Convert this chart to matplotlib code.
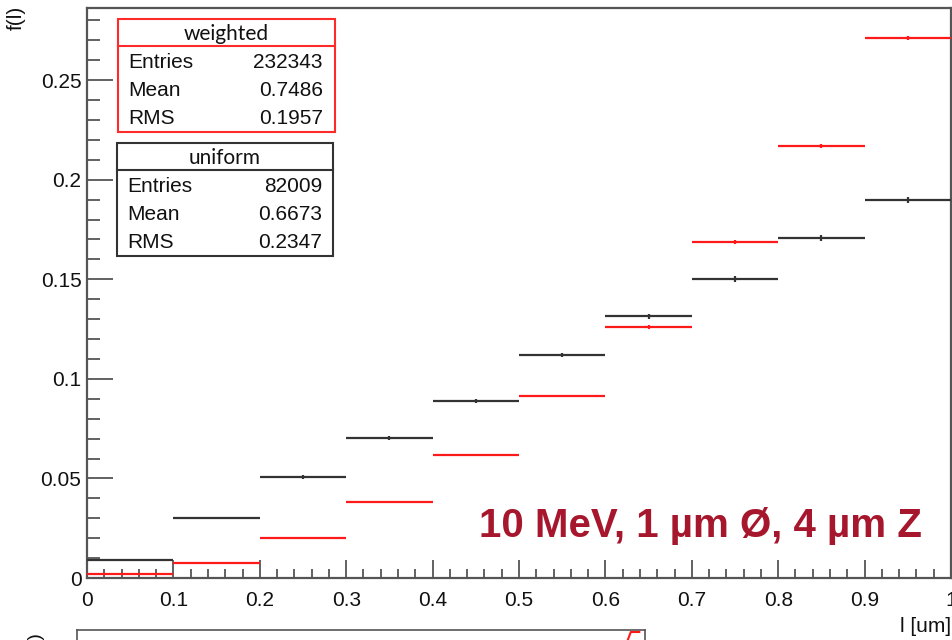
import matplotlib
matplotlib.use("Agg")
import matplotlib.pyplot as plt
from matplotlib.patches import Rectangle
from matplotlib.lines import Line2D
from matplotlib.ticker import MultipleLocator, FixedFormatter, FixedLocator
from matplotlib import font_manager

names = {f.name for f in font_manager.fontManager.ttflist}
NARROW = 'Liberation Sans Narrow' if 'Liberation Sans Narrow' in names else 'Liberation Sans'
HEAD = 'Lato' if 'Lato' in names else 'DejaVu Sans'

# ---- data ----
bin_edges = [0.0, 0.1, 0.2, 0.3, 0.4, 0.5, 0.6, 0.7, 0.8, 0.9, 1.0]
uniform_vals = [0.0090, 0.0301, 0.0507, 0.0703, 0.0889, 0.1120, 0.1315, 0.1500, 0.1707, 0.1898]
uniform_err = [0.0003, 0.0006, 0.0008, 0.0009, 0.0010, 0.0012, 0.0013, 0.0014, 0.0014, 0.0015]
weighted_vals = [0.0020, 0.0075, 0.0200, 0.0380, 0.0617, 0.0914, 0.1260, 0.1687, 0.2169, 0.2711]
weighted_err = [0.0002, 0.0003, 0.0004, 0.0005, 0.0006, 0.0007, 0.0008, 0.0009, 0.0010, 0.0012]

weighted_stats = [("Entries", "232343"), ("Mean", "0.7486"), ("RMS", "0.1957")]
uniform_stats = [("Entries", "82009"), ("Mean", "0.6673"), ("RMS", "0.2347")]

x_ticks = [0.0, 0.1, 0.2, 0.3, 0.4, 0.5, 0.6, 0.7, 0.8, 0.9, 1.0]
x_tick_labels = ["0", "0.1", "0.2", "0.3", "0.4", "0.5", "0.6", "0.7", "0.8", "0.9", "1"]
y_ticks = [0.0, 0.05, 0.1, 0.15, 0.2, 0.25]
y_tick_labels = ["0", "0.05", "0.1", "0.15", "0.2", "0.25"]

sub_x = [0.955, 0.975, 0.99]
sub_y = [0.85, 1.0, 1.0]

# ---- layout ----
W, H = 953, 640
fig = plt.figure(figsize=(W / 100, H / 100), dpi=100)

def fx(px):
    return px / W

def fy(py):
    return 1 - py / H

ax = fig.add_axes([fx(87), fy(578), fx(951) - fx(87), fy(8) - fy(578)])
ax.set_xlim(0, 1)
ax.set_ylim(0, 0.2862)

FRAME = '#555555'
for s in ax.spines.values():
    s.set_color(FRAME)
    s.set_linewidth(1.6)

centers = [(bin_edges[i] + bin_edges[i + 1]) / 2 for i in range(len(bin_edges) - 1)]
half = [(bin_edges[i + 1] - bin_edges[i]) / 2 for i in range(len(bin_edges) - 1)]

ax.errorbar(centers, weighted_vals, xerr=half, yerr=weighted_err, fmt='none',
            ecolor='#ff1a1a', elinewidth=1.6, capsize=0, zorder=3)
ax.errorbar(centers, uniform_vals, xerr=half, yerr=uniform_err, fmt='none',
            ecolor='#333333', elinewidth=1.6, capsize=0, zorder=4)

ax.xaxis.set_major_locator(FixedLocator(x_ticks))
ax.xaxis.set_major_formatter(FixedFormatter(x_tick_labels))
ax.xaxis.set_minor_locator(MultipleLocator(0.02))
ax.yaxis.set_major_locator(FixedLocator(y_ticks))
ax.yaxis.set_major_formatter(FixedFormatter(y_tick_labels))
ax.yaxis.set_minor_locator(MultipleLocator(0.01))

ax.tick_params(axis='x', which='major', direction='in', length=13, width=1.3, color=FRAME,
               pad=9, labelsize=15)
ax.tick_params(axis='x', which='minor', direction='in', length=6.5, width=1.3, color=FRAME)
ax.tick_params(axis='y', which='major', direction='in', length=19, width=1.3, color=FRAME,
               pad=4, labelsize=15)
ax.tick_params(axis='y', which='minor', direction='in', length=9.5, width=1.3, color=FRAME)
ax.tick_params(top=False, right=False, which='both')
for lab in ax.get_xticklabels() + ax.get_yticklabels():
    lab.set_fontfamily([NARROW, 'DejaVu Sans'])
    lab.set_color('#111111')

# axis titles
fig.text(fx(16), fy(6), "f(l)", rotation=90, ha='center', va='top', fontsize=15,
         family=[NARROW, 'DejaVu Sans'], color='#111111')
fig.text(fx(951), fy(626), "l [um]", ha='right', va='center', fontsize=15,
         family=[NARROW, 'DejaVu Sans'], color='#111111')

# annotation
fig.text(fx(700), fy(526), "10 MeV, 1 µm Ø, 4 µm Z", ha='center', va='center',
         fontsize=29, fontweight='bold', color='#a6162c', family=[NARROW, 'DejaVu Sans'])

# stat boxes
def stat_box(x0, y0, x1, y1, ysep, title, rows, ec, row_y, val_x):
    fig.patches.append(Rectangle((fx(x0), fy(y1)), fx(x1) - fx(x0), fy(y0) - fy(y1),
                                 transform=fig.transFigure, facecolor='white',
                                 edgecolor=ec, linewidth=1.5, zorder=10))
    fig.lines.append(Line2D([fx(x0), fx(x1)], [fy(ysep), fy(ysep)], transform=fig.transFigure,
                            color=ec, linewidth=1.5, zorder=11))
    fig.text(fx((x0 + x1) / 2), fy((y0 + ysep) / 2 + 1), title, ha='center', va='center',
             fontsize=15, family=[HEAD, 'DejaVu Sans'], color='#111111', zorder=12)
    for (k, v), yy in zip(rows, row_y):
        fig.text(fx(x0 + 10), fy(yy), k, ha='left', va='center', fontsize=15,
                 family=[NARROW, 'DejaVu Sans'], color='#111111', zorder=12)
        fig.text(fx(val_x), fy(yy), v, ha='right', va='center', fontsize=15,
                 family=[NARROW, 'DejaVu Sans'], color='#111111', zorder=12)

stat_box(118, 19, 335, 132, 46, "weighted", weighted_stats, '#ff2a2a', [62, 90, 118], 323)
stat_box(117, 143, 333, 256, 170, "uniform", uniform_stats, '#333333', [186, 214, 242], 322)

# partially visible lower panel
ax2 = fig.add_axes([fx(77), -0.3, fx(645) - fx(77), fy(630) + 0.3])
ax2.set_xlim(0, 1)
ax2.set_ylim(0, 1.01)
for s in ax2.spines.values():
    s.set_color('#555555')
    s.set_linewidth(1.2)
ax2.set_xticks([])
ax2.set_yticks([])
ax2.plot(sub_x, sub_y, color='#ff1a1a', lw=1.5)
fig.text(fx(36), fy(632), "f(l)", rotation=90, ha='center', va='top', fontsize=14,
         family=[NARROW, 'DejaVu Sans'], color='#111111')

fig.savefig("out.png", dpi=100)
